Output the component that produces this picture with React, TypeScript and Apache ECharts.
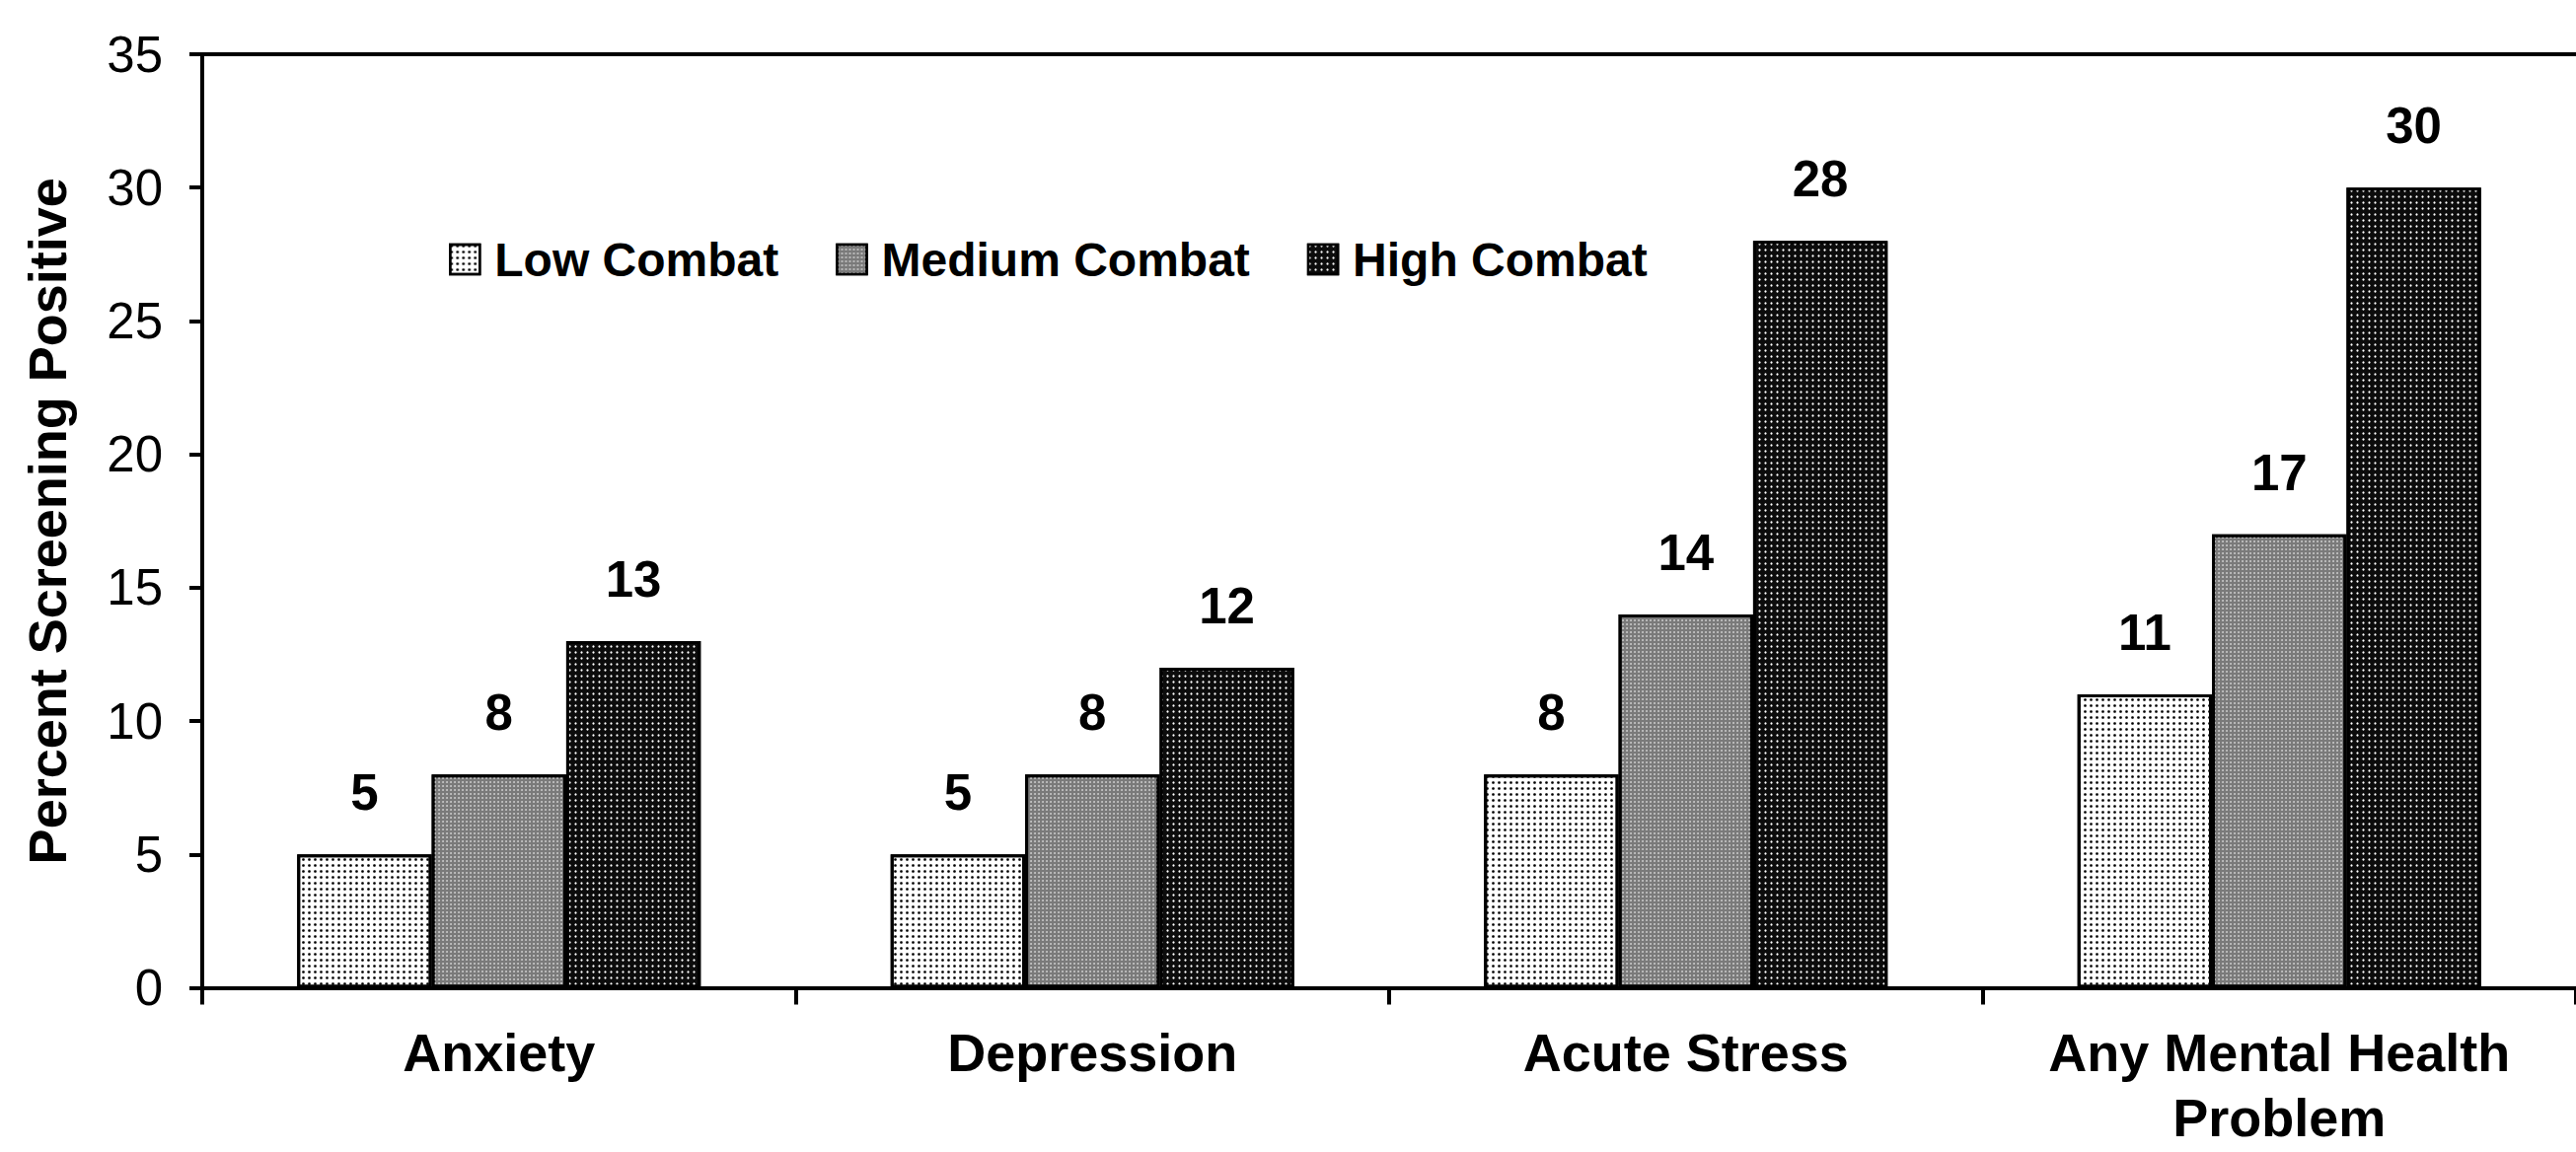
import React, { useEffect, useRef } from "react";
import * as echarts from "echarts";

const categories = ["Anxiety", "Depression", "Acute Stress", "Any Mental Health\nProblem"];
const seriesNames = ["Low Combat", "Medium Combat", "High Combat"];
const lowCombat = [5, 5, 8, 11];
const mediumCombat = [8, 8, 14, 17];
const highCombat = [13, 12, 28, 30];
const yMin = 0;
const yMax = 35;
const yInterval = 5;

const FONT = "'Liberation Sans', Arial, Helvetica, sans-serif";

export default function App() {
  const ref = useRef<HTMLDivElement>(null);

  useEffect(() => {
    if (!ref.current) return;
    const chart = echarts.init(ref.current, null, { renderer: "svg" });

    const labelStyle = {
      show: true,
      position: "top",
      distance: 37,
      color: "#000",
      fontFamily: FONT,
      fontWeight: "bold",
      fontSize: 51,
      lineHeight: 51,
    };

    const fills = [
      { color: "#ffffff", decal: { symbol: "circle", symbolSize: 0.9, color: "#000000", dashArrayX: [3, 3], dashArrayY: [3, 3] } },
      { color: "#7a7a7a", decal: { symbol: "circle", symbolSize: 0.9, color: "#cfcfcf", dashArrayX: [2, 2], dashArrayY: [2, 2] } },
      { color: "#0c0c0c", decal: { symbol: "circle", symbolSize: 0.75, color: "#ffffff", dashArrayX: [3, 3], dashArrayY: [3, 3] } },
    ];
    const dataSets = [lowCombat, mediumCombat, highCombat];

    const series = seriesNames.map((name, i) => ({
      name,
      type: "bar",
      xAxisIndex: 0,
      yAxisIndex: 0,
      data: dataSets[i],
      barGap: "0%",
      barCategoryGap: "32%",
      itemStyle: {
        color: fills[i].color,
        decal: fills[i].decal,
        borderColor: "#000",
        borderWidth: 3,
      },
      label: labelStyle,
    }));

    chart.setOption({
      animation: false,
      backgroundColor: "#ffffff",
      textStyle: { fontFamily: FONT },
      legend: {
        data: seriesNames,
        left: 450,
        top: 234,
        orient: "horizontal",
        icon: "rect",
        itemWidth: 30,
        itemHeight: 30,
        itemGap: 58,
        itemStyle: { borderColor: "#000", borderWidth: 2.5 },
        textStyle: {
          color: "#000",
          fontFamily: FONT,
          fontWeight: "bold",
          fontSize: 48,
          lineHeight: 48,
          padding: [0, 0, 0, 10],
        },
      },
      grid: {
        left: 205,
        right: 0,
        top: 55,
        bottom: 166.5,
        containLabel: false,
        outerBoundsMode: "none",
      },
      xAxis: [
        {
          type: "category",
          data: categories,
          position: "bottom",
          boundaryGap: true,
          axisLine: { show: true, lineStyle: { color: "#000", width: 4 } },
          axisTick: { show: true, inside: false, length: 17, lineStyle: { color: "#000", width: 4 } },
          axisLabel: {
            show: true,
            interval: 0,
            margin: 32,
            color: "#000",
            fontFamily: FONT,
            fontWeight: "bold",
            fontSize: 54,
            lineHeight: 66,
          },
          splitLine: { show: false },
        },
        {
          type: "category",
          data: categories,
          position: "top",
          boundaryGap: true,
          axisLine: { show: true, lineStyle: { color: "#000", width: 4 } },
          axisTick: { show: false },
          axisLabel: { show: false },
          splitLine: { show: false },
        },
      ],
      yAxis: {
        type: "value",
        min: yMin,
        max: yMax,
        interval: yInterval,
        name: "Percent Screening Positive",
        nameLocation: "middle",
        nameGap: 130,
        nameTextStyle: {
          color: "#000",
          fontFamily: FONT,
          fontWeight: "bold",
          fontSize: 54,
        },
        axisLine: { show: true, lineStyle: { color: "#000", width: 4 } },
        axisTick: { show: true, inside: false, length: 13, lineStyle: { color: "#000", width: 4 } },
        axisLabel: {
          show: true,
          margin: 40,
          color: "#000",
          fontFamily: FONT,
          fontWeight: "normal",
          fontSize: 51,
          padding: [0, 0, 10, 0],
        },
        splitLine: { show: false },
      },
      series,
    });

    return () => {
      chart.dispose();
    };
  }, []);

  return (
    <div
      ref={ref}
      style={{ position: "fixed", left: 0, top: 0, width: 2611, height: 1168, background: "#fff" }}
    />
  );
}
